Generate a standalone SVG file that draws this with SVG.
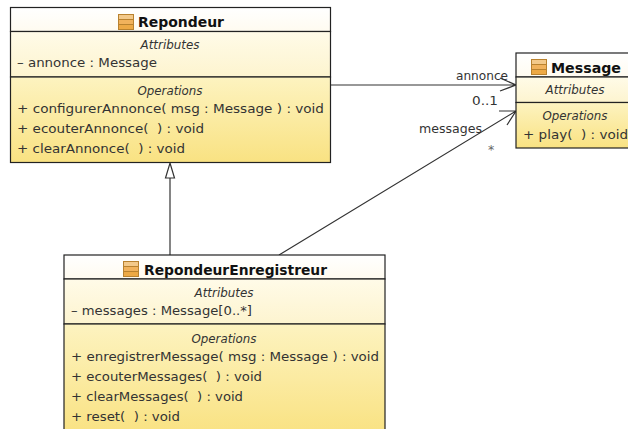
<svg xmlns="http://www.w3.org/2000/svg" width="628" height="429" viewBox="0 0 628 429">
<style>
text{font-family:"DejaVu Sans","Liberation Sans",sans-serif;font-size:12.500px;fill:#333;white-space:pre}
.t{font-size:14.500px;font-weight:bold;fill:#111}
.i{font-size:11.500px;font-style:italic;text-anchor:middle}
.b{stroke:#222;stroke-width:1.200}
.c{fill:none;stroke:#333;stroke-width:1.200}
</style>
<defs>
<linearGradient id="h" x1="0" y1="0" x2="0" y2="1"><stop offset="0" stop-color="#fff"/><stop offset="1" stop-color="#fffbf0"/></linearGradient>
<linearGradient id="a" x1="0" y1="0" x2="0" y2="1"><stop offset="0" stop-color="#fffbe8"/><stop offset="1" stop-color="#fdf4cf"/></linearGradient>
<linearGradient id="o" x1="0" y1="0" x2="0" y2="1"><stop offset="0" stop-color="#fdf3c0"/><stop offset="1" stop-color="#f9e282"/></linearGradient>
<g id="ic"><rect x="0.500" y="0.500" width="15" height="15" fill="#f3c98a" stroke="#b9822f"/><path d="M1 5.500H15M1 10.500H15" stroke="#b9822f" fill="none"/><rect x="1" y="6" width="14" height="4" fill="#f1b25c"/><rect x="1" y="11" width="14" height="4" fill="#eda945"/></g>
</defs>
<rect width="628" height="429" fill="#fff"/>
<g id="connectors">
<path class="c" d="M331 85H516M500 78L516 85L500 91"/>
<path class="c" d="M279 255L516 111M499 111L516 111L507 125"/>
<path class="c" d="M170 255V178"/>
<path d="M170 163L174.500 178H165.500Z" fill="#fff" stroke="#333" stroke-width="1.200"/>
<text x="456" y="80" textLength="52" lengthAdjust="spacingAndGlyphs">annonce</text>
<text x="472" y="105" textLength="26" lengthAdjust="spacingAndGlyphs">0..1</text>
<text x="419" y="133" textLength="63" lengthAdjust="spacingAndGlyphs">messages</text>
<text x="488" y="154" style="fill:#666">*</text>
</g>
<g id="Repondeur">
<rect x="10.500" y="7.500" width="320" height="24" fill="url(#h)" class="b"/>
<rect x="10.500" y="31.500" width="320" height="45.500" fill="url(#a)" class="b"/>
<rect x="10.500" y="77" width="320" height="85.500" fill="url(#o)" class="b"/>
<use href="#ic" x="118" y="14"/>
<text class="t" x="138" y="27" textLength="86" lengthAdjust="spacingAndGlyphs">Repondeur</text>
<text class="i" x="170" y="49" textLength="59" lengthAdjust="spacingAndGlyphs">Attributes</text>
<text x="17" y="67" textLength="140" lengthAdjust="spacingAndGlyphs">– annonce : Message</text>
<text class="i" x="170" y="95" textLength="65" lengthAdjust="spacingAndGlyphs">Operations</text>
<text x="17" y="113" textLength="307" lengthAdjust="spacingAndGlyphs">+ configurerAnnonce( msg : Message ) : void</text>
<text x="17" y="133" textLength="187" lengthAdjust="spacingAndGlyphs">+ ecouterAnnonce(  ) : void</text>
<text x="17" y="153" textLength="168" lengthAdjust="spacingAndGlyphs">+ clearAnnonce(  ) : void</text>
</g>
<g id="Message">
<rect x="516" y="53" width="120" height="24" fill="url(#h)" class="b"/>
<rect x="516" y="77" width="120" height="25.500" fill="url(#a)" class="b"/>
<rect x="516" y="102.500" width="120" height="45.500" fill="url(#o)" class="b"/>
<use href="#ic" x="531" y="59"/>
<text class="t" x="551" y="73" textLength="70" lengthAdjust="spacingAndGlyphs">Message</text>
<text class="i" x="575" y="94" textLength="59" lengthAdjust="spacingAndGlyphs">Attributes</text>
<text class="i" x="575" y="120" textLength="65" lengthAdjust="spacingAndGlyphs">Operations</text>
<text x="523" y="139" textLength="105" lengthAdjust="spacingAndGlyphs">+ play(  ) : void</text>
</g>
<g id="RepondeurEnregistreur">
<rect x="64" y="255" width="321" height="24" fill="url(#h)" class="b"/>
<rect x="64" y="279" width="321" height="45" fill="url(#a)" class="b"/>
<rect x="64" y="324" width="321" height="110" fill="url(#o)" class="b"/>
<use href="#ic" x="123" y="261"/>
<text class="t" x="144" y="275" textLength="183" lengthAdjust="spacingAndGlyphs">RepondeurEnregistreur</text>
<text class="i" x="224" y="297" textLength="59" lengthAdjust="spacingAndGlyphs">Attributes</text>
<text x="71" y="315" textLength="181" lengthAdjust="spacingAndGlyphs">– messages : Message[0..*]</text>
<text class="i" x="224" y="343" textLength="65" lengthAdjust="spacingAndGlyphs">Operations</text>
<text x="71" y="361" textLength="308" lengthAdjust="spacingAndGlyphs">+ enregistrerMessage( msg : Message ) : void</text>
<text x="71" y="381" textLength="191" lengthAdjust="spacingAndGlyphs">+ ecouterMessages(  ) : void</text>
<text x="71" y="401" textLength="172" lengthAdjust="spacingAndGlyphs">+ clearMessages(  ) : void</text>
<text x="71" y="421" textLength="109" lengthAdjust="spacingAndGlyphs">+ reset(  ) : void</text>
</g>
</svg>
